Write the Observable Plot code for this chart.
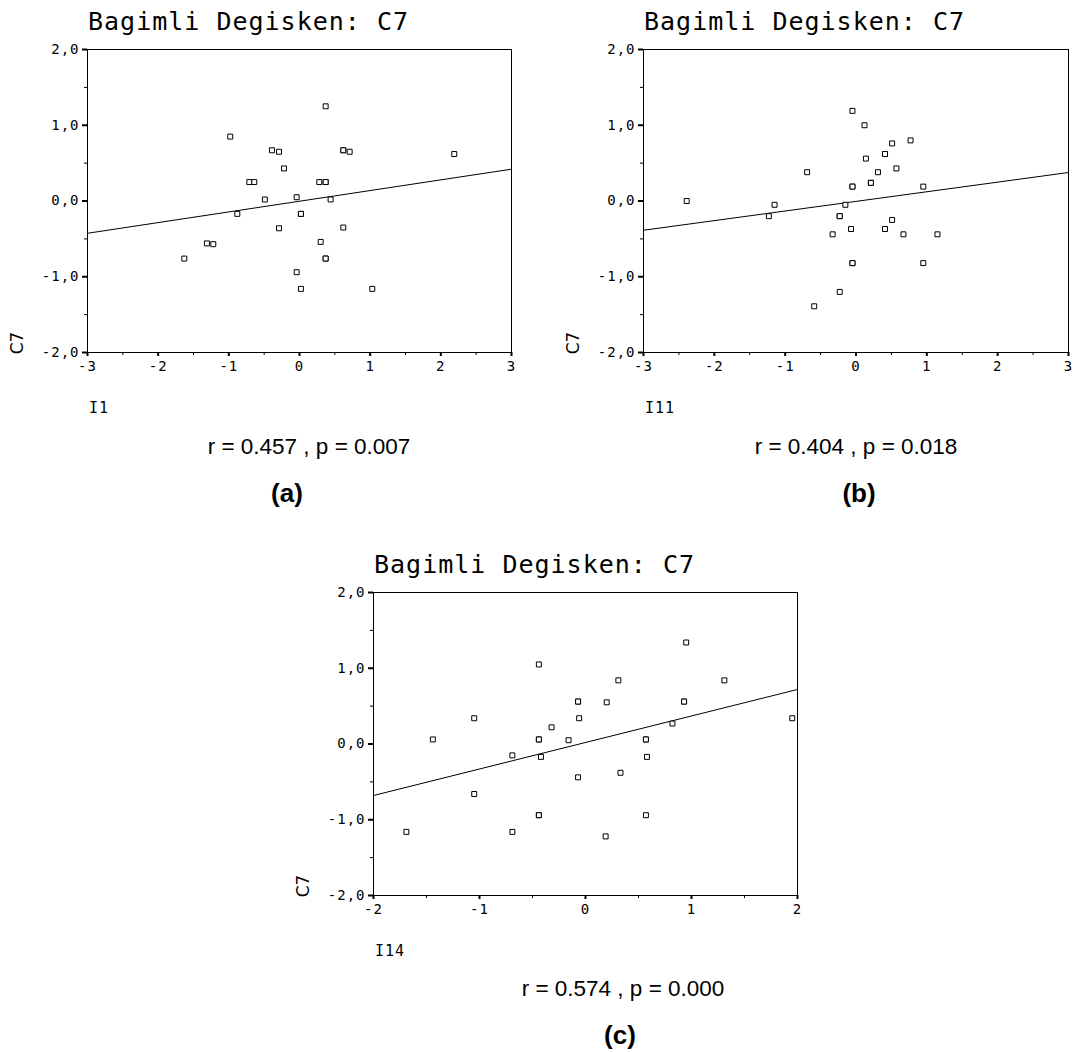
<!DOCTYPE html>
<html>
<head>
<meta charset="utf-8">
<script src="https://cdn.jsdelivr.net/npm/d3@7"></script>
<script src="https://cdn.jsdelivr.net/npm/@observablehq/plot@0.6"></script>
<style>
  html, body { margin: 0; padding: 0; background: white; }
  #page { position: relative; width: 1078px; height: 1052px; background: white; overflow: hidden; }
  .panel { position: absolute; }
  .title { position: absolute; font-family: "DejaVu Sans Mono", monospace; font-size: 25px; letter-spacing: 1px; color: #000; transform: translateY(-50%); white-space: nowrap; }
  .ylab { position: absolute; font-family: "DejaVu Sans", sans-serif; font-size: 17px; color: #000; transform: translate(-50%, -50%) rotate(-90deg); white-space: nowrap; }
  .xlab { position: absolute; font-family: "DejaVu Sans Mono", monospace; font-size: 15px; letter-spacing: 1px; color: #000; transform: translateY(-50%); white-space: nowrap; }
  .stat { position: absolute; font-family: "Liberation Sans", Arial, sans-serif; font-size: 22.5px; color: #000; transform: translate(-50%, -50%); white-space: nowrap; }
  .tag { position: absolute; font-family: "Liberation Sans", Arial, sans-serif; font-size: 26px; font-weight: bold; color: #000; transform: translate(-50%, -50%); white-space: nowrap; }
</style>
</head>
<body>
<div id="page"></div>
<script>
// ---------- data ----------
const titleText = "Bagimli Degisken: C7";
const yLabel = "C7";
const yTicks = [-2, -1, 0, 1, 2];
const yMinorTicks = [-1.5, -0.5, 0.5, 1.5];

// Panel (a): I1 vs C7
const xA = [0.37, -0.98, -0.39, -0.29, 0.62, 0.62, 0.71, 2.19, -0.22, -0.71, -0.64, 0.28, 0.37, 0.37, -0.49, -0.04, 0.44, -0.88, 0.02, 0.02, -0.29, 0.62, -1.31, -1.22, 0.30, -1.63, 0.37, 0.37, -0.04, 0.02, 1.03];
const yA = [1.25, 0.85, 0.67, 0.65, 0.67, 0.67, 0.65, 0.62, 0.43, 0.25, 0.25, 0.25, 0.25, 0.25, 0.02, 0.05, 0.02, -0.17, -0.17, -0.17, -0.36, -0.35, -0.56, -0.57, -0.54, -0.76, -0.76, -0.76, -0.94, -1.16, -1.16];
const fitA = {slope: 0.141, intercept: -0.003};
const xDomainA = [-3, 3];
const xTicksA = [-3, -2, -1, 0, 1, 2, 3];
const xMinorA = [-2.5, -1.5, -0.5, 0.5, 1.5, 2.5];
const xLabelA = "I1";
const statA = "r = 0.457 , p = 0.007";
const tagA = "(a)";

// Panel (b): I11 vs C7
const xB = [-0.05, 0.12, 0.51, 0.77, 0.41, 0.41, 0.14, -0.69, 0.31, 0.57, -0.05, -0.05, 0.21, 0.21, 0.95, -2.39, -1.15, -0.15, -1.23, -0.23, -0.23, 0.51, -0.07, 0.41, -0.33, 0.67, 1.15, -0.05, -0.05, 0.95, -0.23, -0.59];
const yB = [1.19, 1.00, 0.76, 0.80, 0.62, 0.62, 0.56, 0.38, 0.38, 0.43, 0.19, 0.19, 0.24, 0.24, 0.19, 0.00, -0.05, -0.05, -0.20, -0.20, -0.20, -0.25, -0.37, -0.37, -0.44, -0.44, -0.44, -0.82, -0.82, -0.82, -1.20, -1.39];
const fitB = {slope: 0.127, intercept: -0.005};
const xDomainB = [-3, 3];
const xTicksB = [-3, -2, -1, 0, 1, 2, 3];
const xMinorB = [-2.5, -1.5, -0.5, 0.5, 1.5, 2.5];
const xLabelB = "I11";
const statB = "r = 0.404 , p = 0.018";
const tagB = "(b)";

// Panel (c): I14 vs C7
const xC = [0.95, -0.44, 0.31, 1.31, -0.07, -0.07, 0.20, 0.93, 0.93, -1.05, -0.06, 1.95, -0.32, 0.82, -1.44, -0.44, -0.44, -0.16, 0.57, 0.57, -0.69, -0.42, 0.58, -0.07, 0.33, -1.05, -0.44, -0.44, 0.57, -1.69, -0.69, 0.19];
const yC = [1.34, 1.05, 0.84, 0.84, 0.56, 0.56, 0.55, 0.56, 0.56, 0.34, 0.34, 0.34, 0.22, 0.27, 0.06, 0.06, 0.06, 0.05, 0.06, 0.06, -0.15, -0.17, -0.17, -0.44, -0.38, -0.66, -0.94, -0.94, -0.94, -1.16, -1.16, -1.22];
const fitC = {slope: 0.35, intercept: 0.02};
const xDomainC = [-2, 2];
const xTicksC = [-2, -1, 0, 1, 2];
const xMinorC = [-1.5, -0.5, 0.5, 1.5];
const xLabelC = "I14";
const statC = "r = 0.574 , p = 0.000";
const tagC = "(c)";

// ---------- drawing ----------
const page = document.getElementById("page");
const yFmt = d => d.toFixed(1).replace(".", ",");
const xFmt = d => String(d);

function addText(cls, text, left, top) {
  const el = document.createElement("div");
  el.className = cls;
  el.textContent = text;
  el.style.left = left + "px";
  el.style.top = top + "px";
  page.appendChild(el);
}

function panel(cfg) {
  const pts = cfg.xs.map((x, i) => ({x, y: cfg.ys[i]}));
  const fitLine = cfg.xDomain.map(x => ({x, y: cfg.fit.intercept + cfg.fit.slope * x}));
  const chart = Plot.plot({
    width: cfg.width,
    height: cfg.height,
    marginLeft: cfg.ml,
    marginRight: cfg.mr,
    marginTop: cfg.mt,
    marginBottom: cfg.mb,
    x: {domain: cfg.xDomain},
    y: {domain: [-2, 2]},
    style: {fontFamily: "DejaVu Sans Mono", fontSize: "14px", letterSpacing: "1px", color: "black", background: "white", overflow: "visible"},
    marks: [
      Plot.frame({stroke: "black", strokeWidth: 1}),
      Plot.axisY({ticks: yMinorTicks, tickSize: 3, fill: "none", label: null}),
      Plot.axisY({ticks: yTicks, tickSize: 5, tickPadding: 3, tickFormat: yFmt, strokeWidth: 2, label: null}),
      Plot.axisX({ticks: cfg.xMinor, tickSize: 3, fill: "none", label: null}),
      Plot.axisX({ticks: cfg.xTicks, tickSize: 4, tickPadding: 5, tickFormat: xFmt, strokeWidth: 2, label: null}),
      Plot.line(fitLine, {x: "x", y: "y", stroke: "black", strokeWidth: 1}),
      Plot.dot(pts, {x: "x", y: "y", symbol: "square", r: 2.8, stroke: "black", fill: "white", strokeWidth: 1})
    ]
  });
  const wrap = document.createElement("div");
  wrap.className = "panel";
  wrap.style.left = cfg.left + "px";
  wrap.style.top = cfg.top + "px";
  wrap.appendChild(chart);
  page.appendChild(wrap);

  const fl = cfg.left + cfg.ml;              // frame left
  const fb = cfg.top + cfg.height - cfg.mb;  // frame bottom
  const ft = cfg.top + cfg.mt;               // frame top
  addText("title", titleText, fl + 1, ft - 28);
  addText("ylab", yLabel, fl - 70, fb - 9);
  addText("xlab", cfg.xLabel, fl + 2, fb + 56);
  addText("stat", cfg.stat, cfg.statX, fb + cfg.statDy);
  addText("tag", cfg.tag, cfg.tagX, fb + cfg.tagDy);
}

panel({xs: xA, ys: yA, fit: fitA, xDomain: xDomainA, xTicks: xTicksA, xMinor: xMinorA,
  left: 0, top: 0, width: 540, height: 380, ml: 87, mr: 29, mt: 49, mb: 28,
  xLabel: xLabelA, stat: statA, tag: tagA, statX: 309, tagX: 287, statDy: 95, tagDy: 141});
panel({xs: xB, ys: yB, fit: fitB, xDomain: xDomainB, xTicks: xTicksB, xMinor: xMinorB,
  left: 540, top: 0, width: 538, height: 380, ml: 103, mr: 10, mt: 49, mb: 28,
  xLabel: xLabelB, stat: statB, tag: tagB, statX: 856, tagX: 859, statDy: 95, tagDy: 141});
panel({xs: xC, ys: yC, fit: fitC, xDomain: xDomainC, xTicks: xTicksC, xMinor: xMinorC,
  left: 290, top: 540, width: 530, height: 380, ml: 83, mr: 23, mt: 52, mb: 25,
  xLabel: xLabelC, stat: statC, tag: tagC, statX: 623, tagX: 620, statDy: 94, tagDy: 140});
</script>
</body>
</html>
